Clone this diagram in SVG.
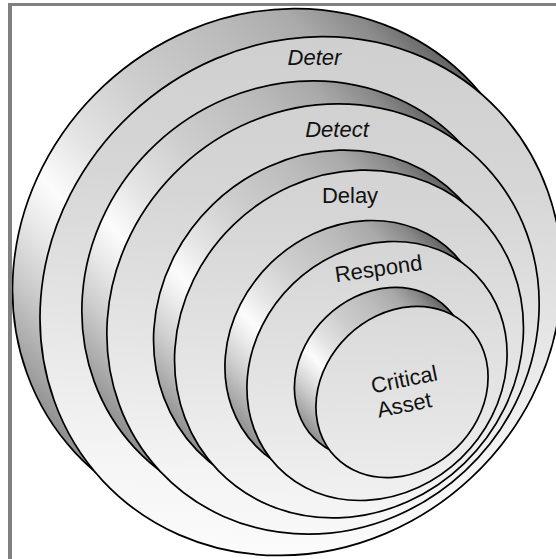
<svg xmlns="http://www.w3.org/2000/svg" width="556" height="559" viewBox="0 0 556 559">
<defs>
<linearGradient id="side" x1="0" y1="0" x2="1" y2="0">
<stop offset="0" stop-color="#8e8e8e"/>
<stop offset="0.07" stop-color="#acacac"/>
<stop offset="0.15" stop-color="#cdcdcd"/>
<stop offset="0.23" stop-color="#e8e8e8"/>
<stop offset="0.30" stop-color="#fcfcfc"/>
<stop offset="0.40" stop-color="#e4e4e4"/>
<stop offset="0.55" stop-color="#cdcdcd"/>
<stop offset="0.72" stop-color="#bcbcbc"/>
<stop offset="0.84" stop-color="#aaaaaa"/>
<stop offset="0.93" stop-color="#8a8a8a"/>
<stop offset="1" stop-color="#626262"/>
</linearGradient>
<linearGradient id="face" gradientUnits="userSpaceOnUse" x1="520" y1="80" x2="80" y2="520">
<stop offset="0" stop-color="#cdcdcd"/>
<stop offset="0.3" stop-color="#d6d6d6"/>
<stop offset="0.55" stop-color="#e6e6e6"/>
<stop offset="0.75" stop-color="#f4f4f4"/>
<stop offset="1" stop-color="#ffffff"/>
</linearGradient>
</defs>
<style>
.side{fill:url(#side);stroke:#000;stroke-width:1.7}
.face{fill:url(#face);stroke:#000;stroke-width:1.7}
.lbl{font-family:"Liberation Sans",Arial,sans-serif;font-size:22px;fill:#111;text-anchor:middle}
.it{font-style:italic}
.frame{fill:#808080}
</style>
<rect width="556" height="559" fill="#ffffff"/>
<g id="deter">
<ellipse class="side" cx="273.5" cy="268" rx="271" ry="249" transform="rotate(-43 273.5 268)"/>
<ellipse class="face" cx="301" cy="296" rx="271" ry="249" transform="rotate(-43 301 296)"/>
<text class="lbl it" x="314.5" y="65">Deter</text>
</g>
<g id="detect">
<ellipse class="side" cx="298" cy="296" rx="223" ry="208" transform="rotate(-43 298 296)"/>
<ellipse class="face" cx="323" cy="319" rx="223" ry="208" transform="rotate(-43 323 319)"/>
<text class="lbl it" x="337" y="137">Detect</text>
</g>
<g id="delay">
<ellipse class="side" cx="328" cy="324" rx="182" ry="166" transform="rotate(-44 328 324)"/>
<ellipse class="face" cx="349" cy="344" rx="182" ry="166" transform="rotate(-44 349 344)"/>
<text class="lbl" x="350" y="203">Delay</text>
</g>
<g id="respond">
<ellipse class="side" cx="355" cy="350" rx="138" ry="121" transform="rotate(-44 355 350)"/>
<ellipse class="face" cx="377" cy="371" rx="138" ry="121" transform="rotate(-44 377 371)"/>
<text class="lbl" x="379.5" y="276" transform="rotate(-8 379.5 276)">Respond</text>
</g>
<g id="critical-asset">
<ellipse class="side" cx="380.5" cy="373" rx="93" ry="78" transform="rotate(-44 380.5 373)"/>
<ellipse class="face" cx="402" cy="392" rx="93" ry="78" transform="rotate(-44 402 392)"/>
<text class="lbl" x="405.7" y="386.7" transform="rotate(-11.5 405.7 386.7)">Critical</text>
<text class="lbl" x="405.7" y="412.3" transform="rotate(-11.5 405.7 412.3)">Asset</text>
</g>
<g id="frame">
<rect class="frame" x="8" y="3" width="4" height="556"/>
<rect class="frame" x="8" y="3" width="548" height="3"/>
</g>
</svg>
